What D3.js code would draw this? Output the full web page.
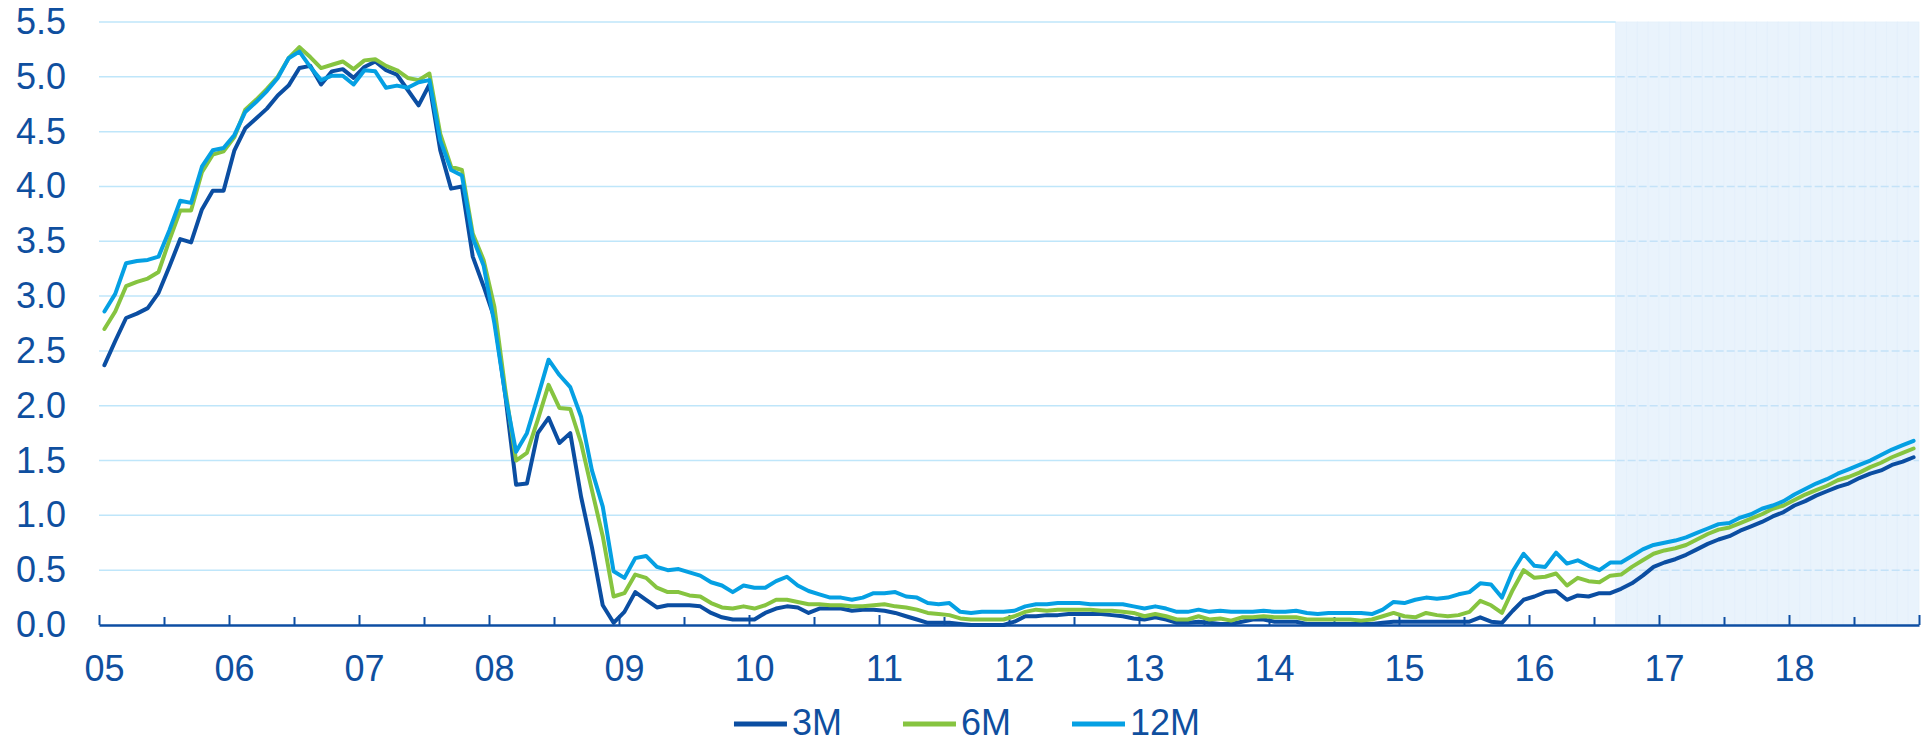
<!DOCTYPE html>
<html>
<head>
<meta charset="utf-8">
<script src="https://cdnjs.cloudflare.com/ajax/libs/d3/7.8.5/d3.min.js"></script>
<style>
  html, body { margin: 0; padding: 0; background: #ffffff; }
  svg { display: block; }
  text { font-family: "Liberation Sans", Arial, sans-serif; }
</style>
</head>
<body>
<svg id="chart" width="1928" height="743"></svg>
<script>
// tick labels / categories
var yearLabels = ['05', '06', '07', '08', '09', '10', '11', '12', '13', '14', '15', '16', '17', '18'];
var yTicks = [0, 0.5, 1, 1.5, 2, 2.5, 3, 3.5, 4, 4.5, 5, 5.5];
var forecastStart = '2016-09';
var seriesNames = ['3M', '6M', '12M'];

// monthly values, Jan 2005 - Dec 2018
var rates3M = [
    2.37, 2.59, 2.80, 2.84, 2.89, 3.03, 3.27, 3.52, 3.49, 3.79, 3.96, 3.96,
    4.33, 4.53, 4.62, 4.71, 4.83, 4.92, 5.08, 5.10, 4.93, 5.05, 5.07, 4.99,
    5.09, 5.14, 5.06, 5.02, 4.88, 4.74, 4.93, 4.33, 3.98, 4.00, 3.36, 3.09,
    2.80, 2.10, 1.28, 1.29, 1.75, 1.89, 1.66, 1.75, 1.17, 0.71, 0.18, 0.02,
    0.12, 0.30, 0.23, 0.16, 0.18, 0.18, 0.18, 0.17, 0.11, 0.07, 0.05, 0.05,
    0.05, 0.11, 0.15, 0.17, 0.16, 0.11, 0.15, 0.15, 0.15, 0.13, 0.14, 0.14,
    0.13, 0.11, 0.08, 0.05, 0.02, 0.02, 0.02, 0.01, 0.00, 0.00, 0.00, 0.00,
    0.03, 0.08, 0.08, 0.09, 0.09, 0.10, 0.10, 0.10, 0.10, 0.09, 0.08, 0.06,
    0.05, 0.07, 0.05, 0.02, 0.02, 0.03, 0.02, 0.01, 0.01, 0.03, 0.05, 0.05,
    0.03, 0.03, 0.03, 0.01, 0.01, 0.01, 0.01, 0.01, 0.01, 0.01, 0.02, 0.03,
    0.03, 0.03, 0.03, 0.03, 0.03, 0.03, 0.03, 0.07, 0.03, 0.02, 0.13, 0.23,
    0.26, 0.30, 0.31, 0.23, 0.27, 0.26, 0.29, 0.29, 0.33, 0.38, 0.45, 0.53,
    0.57, 0.60, 0.64, 0.69, 0.74, 0.78, 0.81, 0.86, 0.90, 0.94, 0.99, 1.03,
    1.09, 1.13, 1.18, 1.22, 1.26, 1.29, 1.34, 1.38, 1.41, 1.46, 1.49, 1.53
];
var rates6M = [
    2.70, 2.86, 3.09, 3.13, 3.16, 3.22, 3.51, 3.78, 3.78, 4.13, 4.29, 4.32,
    4.45, 4.70, 4.79, 4.89, 5.00, 5.17, 5.27, 5.18, 5.08, 5.11, 5.14, 5.07,
    5.15, 5.16, 5.10, 5.06, 4.99, 4.97, 5.03, 4.48, 4.18, 4.15, 3.57, 3.33,
    2.90, 2.15, 1.50, 1.57, 1.87, 2.19, 1.98, 1.97, 1.66, 1.23, 0.81, 0.26,
    0.29, 0.46, 0.43, 0.34, 0.30, 0.30, 0.27, 0.26, 0.20, 0.16, 0.15, 0.17,
    0.15, 0.18, 0.23, 0.23, 0.21, 0.19, 0.19, 0.18, 0.18, 0.17, 0.17, 0.18,
    0.19, 0.17, 0.16, 0.14, 0.11, 0.10, 0.09, 0.06, 0.05, 0.05, 0.05, 0.05,
    0.08, 0.12, 0.14, 0.13, 0.14, 0.14, 0.14, 0.14, 0.13, 0.13, 0.12, 0.11,
    0.08, 0.10, 0.08, 0.05, 0.05, 0.08, 0.05, 0.06, 0.04, 0.07, 0.07, 0.08,
    0.07, 0.07, 0.07, 0.05, 0.05, 0.05, 0.05, 0.05, 0.04, 0.05, 0.08, 0.11,
    0.08, 0.07, 0.11, 0.09, 0.08, 0.09, 0.12, 0.22, 0.18, 0.11, 0.32, 0.50,
    0.43, 0.44, 0.47, 0.36, 0.43, 0.40, 0.39, 0.45, 0.46, 0.53, 0.59, 0.65,
    0.68, 0.70, 0.73, 0.78, 0.83, 0.87, 0.89, 0.93, 0.97, 1.01, 1.06, 1.09,
    1.14, 1.19, 1.23, 1.27, 1.32, 1.35, 1.39, 1.44, 1.48, 1.53, 1.57, 1.61
];
var rates12M = [
    2.86, 3.02, 3.30, 3.32, 3.33, 3.36, 3.60, 3.87, 3.85, 4.18, 4.33, 4.35,
    4.47, 4.68, 4.77, 4.87, 4.99, 5.17, 5.23, 5.09, 4.97, 5.01, 5.01, 4.93,
    5.06, 5.05, 4.90, 4.92, 4.90, 4.95, 4.97, 4.42, 4.15, 4.10, 3.53, 3.28,
    2.75, 2.10, 1.58, 1.75, 2.08, 2.42, 2.28, 2.17, 1.90, 1.41, 1.08, 0.49,
    0.43, 0.61, 0.63, 0.53, 0.50, 0.51, 0.48, 0.45, 0.39, 0.36, 0.30, 0.36,
    0.34, 0.34, 0.40, 0.44, 0.36, 0.31, 0.28, 0.25, 0.25, 0.23, 0.25, 0.29,
    0.29, 0.30, 0.26, 0.25, 0.20, 0.19, 0.20, 0.12, 0.11, 0.12, 0.12, 0.12,
    0.13, 0.17, 0.19, 0.19, 0.20, 0.20, 0.20, 0.19, 0.19, 0.19, 0.19, 0.17,
    0.15, 0.17, 0.15, 0.12, 0.12, 0.14, 0.12, 0.13, 0.12, 0.12, 0.12, 0.13,
    0.12, 0.12, 0.13, 0.11, 0.10, 0.11, 0.11, 0.11, 0.11, 0.10, 0.14, 0.21,
    0.20, 0.23, 0.25, 0.24, 0.25, 0.28, 0.30, 0.38, 0.37, 0.25, 0.49, 0.65,
    0.54, 0.53, 0.66, 0.56, 0.59, 0.54, 0.50, 0.57, 0.57, 0.63, 0.69, 0.73,
    0.75, 0.77, 0.80, 0.84, 0.88, 0.92, 0.93, 0.98, 1.01, 1.06, 1.09, 1.13,
    1.19, 1.24, 1.29, 1.33, 1.38, 1.42, 1.46, 1.50, 1.55, 1.60, 1.64, 1.68
];

var colors = { '3M': '#0b4ea2', '6M': '#86c440', '12M': '#05a0e3' };
var textColor = '#0f4f9f';

(function () {
    var months = [];
    yearLabels.forEach(function (yr) {
        for (var m = 1; m <= 12; m++) {
            months.push('20' + yr + '-' + (m < 10 ? '0' + m : m));
        }
    });
    var series = [
        { name: '3M', values: rates3M },
        { name: '6M', values: rates6M },
        { name: '12M', values: rates12M }
    ];

    var plotLeft = 99, plotRight = 1919, plotTop = 22, plotBottom = 625;

    var svg = d3.select('#chart');

    var x = d3.scaleBand()
        .domain(months)
        .range([plotLeft, plotRight])
        .padding(0);
    var bw = x.bandwidth();
    var xEdge = d3.scaleLinear()
        .domain([0, months.length])
        .range([plotLeft, plotRight]);
    var y = d3.scaleLinear()
        .domain([0, 5.5])
        .range([plotBottom, plotTop]);

    // forecast shading, one column per month
    var fcMonths = months.slice(months.indexOf(forecastStart));
    var shadeX = x(forecastStart);
    svg.append('g')
        .selectAll('rect')
        .data(fcMonths)
        .enter().append('rect')
        .attr('x', function (d) { return x(d); })
        .attr('y', plotTop)
        .attr('width', bw)
        .attr('height', plotBottom - plotTop)
        .attr('fill', '#e9f3fc')
        .attr('stroke', '#e3effb')
        .attr('stroke-width', 0.8);

    // gridlines: solid before forecast, dashed inside it
    var grid = svg.append('g');
    grid.selectAll('.solid')
        .data(yTicks.filter(function (d) { return d > 0; }))
        .enter().append('line')
        .attr('x1', plotLeft)
        .attr('x2', shadeX)
        .attr('y1', function (d) { return y(d); })
        .attr('y2', function (d) { return y(d); })
        .attr('stroke', '#bfe6fa')
        .attr('stroke-width', 1.5);
    grid.selectAll('.dashed')
        .data(yTicks.filter(function (d) { return d > 0 && d < 5.5; }))
        .enter().append('line')
        .attr('x1', shadeX + 1)
        .attr('x2', plotRight)
        .attr('y1', function (d) { return y(d); })
        .attr('y2', function (d) { return y(d); })
        .attr('stroke', '#c4e2f8')
        .attr('stroke-width', 1.5)
        .attr('stroke-dasharray', '8,3');

    // y axis labels
    var yAxis = svg.append('g')
        .attr('transform', 'translate(' + plotLeft + ',0)')
        .call(d3.axisLeft(y).tickValues(yTicks).tickFormat(d3.format('.1f')).tickSize(0).tickPadding(33));
    yAxis.select('.domain').remove();
    yAxis.selectAll('text')
        .attr('fill', textColor)
        .style('font-size', '36px');

    // x axis line + ticks (ticks point up, half-year marks shorter)
    var tickVals = d3.range(0, months.length + 1, 6);
    var xAxis = svg.append('g')
        .attr('transform', 'translate(0,' + plotBottom + ')')
        .call(d3.axisBottom(xEdge).tickValues(tickVals).tickFormat('').tickSizeOuter(0));
    xAxis.select('.domain')
        .attr('stroke', '#0d4ea3')
        .attr('stroke-width', 2.5);
    xAxis.selectAll('.tick line')
        .attr('stroke', '#0d4ea3')
        .attr('stroke-width', 2)
        .attr('y2', function (d) { return d % 12 === 0 ? -10 : -8; });

    // year labels at January
    var januaries = months.filter(function (m) { return m.slice(5) === '01'; });
    var xLabels = svg.append('g')
        .attr('transform', 'translate(0,' + plotBottom + ')')
        .call(d3.axisBottom(x).tickValues(januaries)
            .tickFormat(function (d) { return d.slice(2, 4); })
            .tickSize(0).tickPadding(30));
    xLabels.select('.domain').remove();
    xLabels.selectAll('text')
        .attr('fill', textColor)
        .style('font-size', '36px');

    // lines
    var line = d3.line()
        .x(function (d, i) { return x(months[i]) + bw / 2; })
        .y(function (d) { return y(d); });
    svg.append('g')
        .selectAll('path')
        .data(series)
        .enter().append('path')
        .attr('d', function (d) { return line(d.values); })
        .attr('fill', 'none')
        .attr('stroke', function (d) { return colors[d.name]; })
        .attr('stroke-width', 4)
        .attr('stroke-linejoin', 'round')
        .attr('stroke-linecap', 'round');

    // legend
    var legend = svg.append('g');
    var cursor = 0;
    seriesNames.forEach(function (name) {
        var item = legend.append('g').attr('transform', 'translate(' + cursor + ',0)');
        item.append('line')
            .attr('x1', 0).attr('x2', 53)
            .attr('y1', 724).attr('y2', 724)
            .attr('stroke', colors[name])
            .attr('stroke-width', 5);
        var t = item.append('text')
            .attr('x', 58)
            .attr('y', 735)
            .attr('fill', textColor)
            .style('font-size', '36px')
            .text(name);
        cursor += 58 + t.node().getComputedTextLength() + 61;
    });
    var legendW = cursor - 61;
    legend.attr('transform', 'translate(' + (967 - legendW / 2) + ',0)');
})();
</script>
</body>
</html>
